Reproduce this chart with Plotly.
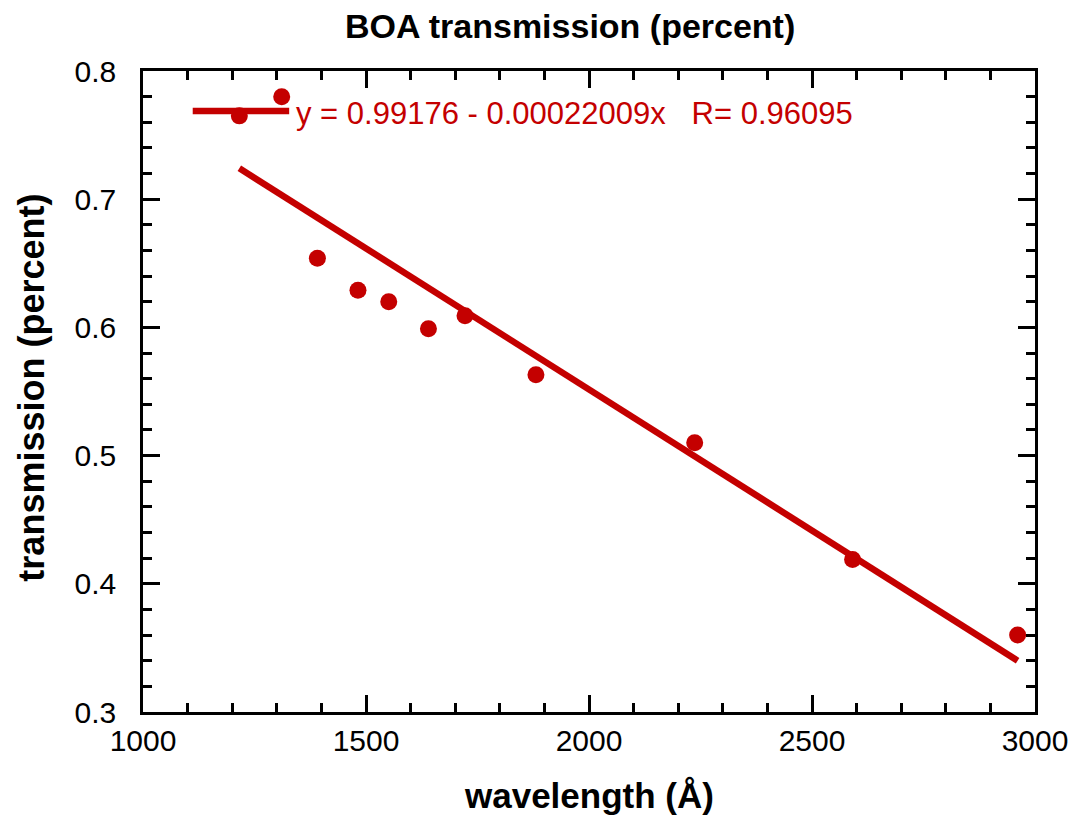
import numpy as np
import plotly.graph_objects as go

# Data
wavelength = [1216, 1311, 1391, 1482, 1551, 1640, 1722, 1881, 2237, 2591, 2961]
transmission = [0.765, 0.780, 0.654, 0.629, 0.620, 0.599, 0.609, 0.563, 0.510, 0.419, 0.360]

# Fit coefficients shown in the legend
fit_intercept = 0.99176
fit_slope = -0.00022009
fit_R = 0.96095

x_ticks = [1000, 1500, 2000, 2500, 3000]
y_ticks = [0.3, 0.4, 0.5, 0.6, 0.7, 0.8]

RED = "#C40000"
FONT = "Liberation Sans, Arial, sans-serif"

# page body has an 8px default margin, so figure is sized to fit the window
FIG_W, FIG_H = 1072, 809
ML, MR, MT, MB = 135, 40, 63, 105
OFF = 8
PW = FIG_W - ML - MR
PH = FIG_H - MT - MB


def px(xp):
    return (xp - OFF - ML) / PW


def py(yp):
    return (FIG_H - MB + OFF - yp) / PH


fit_x = np.array([min(wavelength), max(wavelength)], dtype=float)
fit_y = fit_intercept + fit_slope * fit_x

fig = go.Figure()
fig.add_trace(go.Scatter(x=fit_x, y=fit_y, mode="lines",
                         line=dict(color=RED, width=6.5), showlegend=False))
fig.add_trace(go.Scatter(x=wavelength, y=transmission, mode="markers",
                         marker=dict(color=RED, size=17), showlegend=False))

axis_common = dict(
    showline=True, linecolor="black", linewidth=2.5, mirror="ticks",
    ticks="inside", ticklen=17, tickwidth=2.5, tickcolor="black",
    showgrid=False, zeroline=False,
    tickfont=dict(family=FONT, size=30, color="black"),
)

fig.update_xaxes(range=[1000, 3000], tickvals=x_ticks,
                 ticktext=[str(v) for v in x_ticks],
                 minor=dict(dtick=100, ticks="inside", ticklen=9, tickwidth=2.5, tickcolor="black"),
                 ticklabelstandoff=0,
                 **axis_common)
fig.update_yaxes(range=[0.3, 0.8], tickvals=y_ticks,
                 ticktext=[f"{v:.1f}" for v in y_ticks],
                 minor=dict(dtick=0.02, ticks="inside", ticklen=9, tickwidth=2.5, tickcolor="black"),
                 ticklabelstandoff=18,
                 **axis_common)

# legend sample line + text (fit description)
legend_text = f"y = {fit_intercept} - {abs(fit_slope):.8f}x   R= {fit_R}"
fig.add_shape(type="line", xref="paper", yref="paper",
              x0=px(193), x1=px(290), y0=py(111), y1=py(111),
              line=dict(color=RED, width=6.5))
fig.add_annotation(text=legend_text, xref="paper", yref="paper",
                   x=px(295), y=py(113),
                   xanchor="left", yanchor="middle", showarrow=False,
                   font=dict(family=FONT, size=31, color=RED))

# titles
fig.add_annotation(text="<b>BOA transmission (percent)</b>", xref="paper", yref="paper",
                   x=px(572), y=py(26),
                   xanchor="center", yanchor="middle", showarrow=False,
                   font=dict(family=FONT, size=34, color="black"))
fig.add_annotation(text="<b>wavelength (Å)</b>", xref="paper", yref="paper",
                   x=px(592), y=py(795),
                   xanchor="center", yanchor="middle", showarrow=False,
                   font=dict(family=FONT, size=35, color="black"))
fig.add_annotation(text="<b>transmission (percent)</b>", xref="paper", yref="paper",
                   x=px(30), y=py(388),
                   xanchor="center", yanchor="middle", showarrow=False, textangle=-90,
                   font=dict(family=FONT, size=36, color="black"))

fig.update_layout(
    width=FIG_W, height=FIG_H,
    margin=dict(l=ML, r=MR, t=MT, b=MB),
    paper_bgcolor="white", plot_bgcolor="white",
    showlegend=False,
)

fig.write_html("out.html")
